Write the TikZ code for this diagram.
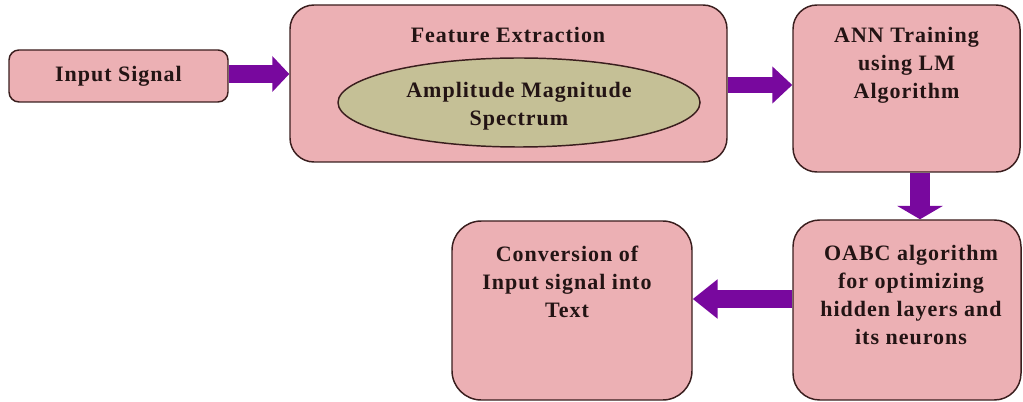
\documentclass[tikz,border=0pt]{standalone}
\usepackage{fontspec}
\setmainfont{Liberation Serif}[LetterSpace=4.5]
\usetikzlibrary{arrows.meta,calc,shapes.geometric}
\definecolor{boxpink}{RGB}{236,176,180}
\definecolor{ellkhaki}{RGB}{197,192,150}
\definecolor{arrpurple}{RGB}{120,8,158}
\definecolor{edgebrown}{RGB}{58,30,30}
\definecolor{txtdark}{RGB}{35,20,20}
\tikzset{
  boxnode/.style={draw=edgebrown, fill=boxpink, line width=1.1pt, inner sep=0pt},
  ellnode/.style={ellipse, draw=edgebrown, fill=ellkhaki, line width=1.1pt, inner sep=0pt},
  txt/.style={font=\fontsize{16.5pt}{21pt}\selectfont\bfseries, text=txtdark, align=center, inner sep=0pt},
  fatarrow/.style={draw=arrpurple, line width=#1}
}
\begin{document}
\begin{tikzpicture}[x=0.75pt,y=-0.75pt]
\useasboundingbox (0,0) rectangle (1023,402);
% boxes
\node[boxnode, rounded corners=7.5pt, minimum width=164.25pt, minimum height=39pt, txt] (inp) at (118.5,76) {Input Signal};
\node[boxnode, rounded corners=18pt, minimum width=327.75pt, minimum height=117.75pt] (fe) at (508.5,83.5) {};
\node[txt] (fet) at (508,35) {Feature Extraction};
\node[ellnode, minimum width=271.5pt, minimum height=66.75pt] (ell) at (519,102.5) {};
\node[txt] (ellt) at (519,106) {Amplitude Magnitude\\Spectrum};
\node[boxnode, rounded corners=18pt, minimum width=170.25pt, minimum height=125.25pt] (ann) at (906.5,88.5) {};
\node[txt] (annt) at (906.5,65) {ANN Training\\using LM\\Algorithm};
\node[boxnode, rounded corners=20pt, minimum width=171pt, minimum height=135pt] (oabc) at (907,310) {};
\node[txt] (oabct) at (911,295) {OABC algorithm\\for optimizing\\hidden layers and\\its neurons};
\node[boxnode, rounded corners=22pt, minimum width=180pt, minimum height=134.25pt] (conv) at (572,310.5) {};
\node[txt] (convt) at (567,281.5) {Conversion of\\Input signal into\\Text};
% arrows
\draw[fatarrow=13.5pt, -{Triangle[length=12.75pt,width=26.25pt]}] ($(inp.east)+(0,-2)$) -- ($(inp.east -| fe.west)+(0,-2)$);
\draw[fatarrow=12pt, -{Triangle[length=15pt,width=27pt]}] ($(fe.east)+(0,1.5)$) -- ($(fe.east -| ann.west)+(0,1.5)$);
\draw[fatarrow=15pt, -{Triangle[length=10pt,width=33.75pt]}] ($(ann.south)+(13.5,0)$) coordinate (d1) -- (d1 |- oabc.north);
\draw[fatarrow=13.5pt, -{Triangle[length=18.75pt,width=28.5pt]}] ($(oabc.west)+(0,-11)$) coordinate (l1) -- (l1 -| conv.east);
\end{tikzpicture}
\end{document}
